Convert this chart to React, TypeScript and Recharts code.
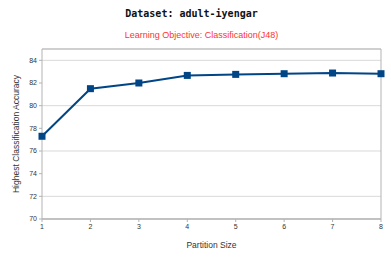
import React from "react";
import {
  CartesianGrid,
  Line,
  LineChart,
  ReferenceArea,
  XAxis,
  YAxis,
} from "recharts";

// Partition size vs highest accuracy (J48)
const partitionSizes = [1, 2, 3, 4, 5, 6, 7, 8];
const accuracy = [77.3, 81.5, 82.0, 82.67, 82.76, 82.82, 82.88, 82.82];
const yTicks = [70, 72, 74, 76, 78, 80, 82, 84];

const chartData = partitionSizes.map((p, i) => ({ size: p, acc: accuracy[i] }));

const FONT = "'Liberation Sans', Arial, sans-serif";

const SquareDot = (props: any) => {
  const { cx, cy } = props;
  if (cx == null || cy == null) return null;
  return <rect x={cx - 3.5} y={cy - 3.5} width={7} height={7} fill="#004586" />;
};

export default function App() {
  return (
    <div style={{ position: "absolute", left: 0, top: 0, width: 391, height: 258, background: "#fff" }}>
      <div
        style={{
          position: "absolute",
          top: 8,
          left: 0,
          width: 391,
          textAlign: "center",
          fontFamily: "'DejaVu Sans Mono', monospace",
          fontWeight: "bold",
          fontSize: 10,
          color: "#111",
          transform: "translateX(-4px)",
        }}
      >
        Dataset: adult-iyengar
      </div>
      <div
        style={{
          position: "absolute",
          top: 30,
          left: 0,
          width: 391,
          textAlign: "center",
          fontFamily: FONT,
          fontSize: 9,
          color: "#ff3333",
          transform: "translateX(6px)",
        }}
      >
        Learning Objective: Classification(J48)
      </div>
      <LineChart
        width={391}
        height={258}
        data={chartData}
        margin={{ top: 49, right: 10, bottom: 0, left: 0 }}
      >
        <CartesianGrid stroke="#d9d9d9" vertical={false} />
        <ReferenceArea x1={1} x2={8} y1={70} y2={85} fill="none" stroke="#b3b3b3" strokeWidth={1} />
        <XAxis
          dataKey="size"
          type="number"
          domain={[1, 8]}
          ticks={partitionSizes}
          height={39}
          tickSize={3}
          stroke="#b3b3b3"
          tick={{ fontSize: 7, fill: "#333", fontFamily: FONT }}
          label={{
            value: "Partition Size",
            position: "insideBottom",
            offset: 10,
            style: { fontSize: 8.5, fill: "#333", fontFamily: FONT },
          }}
        />
        <YAxis
          type="number"
          domain={[70, 85]}
          ticks={yTicks}
          width={42}
          tickSize={3}
          axisLine={false}
          stroke="#b3b3b3"
          tick={{ fontSize: 7, fill: "#333", fontFamily: FONT }}
          label={{
            value: "Highest Classification Accuracy",
            angle: -90,
            position: "insideLeft",
            offset: 16,
            style: { fontSize: 8.5, fill: "#333", fontFamily: FONT, textAnchor: "middle" },
          }}
        />
        <Line
          type="linear"
          dataKey="acc"
          stroke="#004586"
          strokeWidth={2}
          dot={<SquareDot />}
          activeDot={false}
          isAnimationActive={false}
        />
      </LineChart>
    </div>
  );
}
